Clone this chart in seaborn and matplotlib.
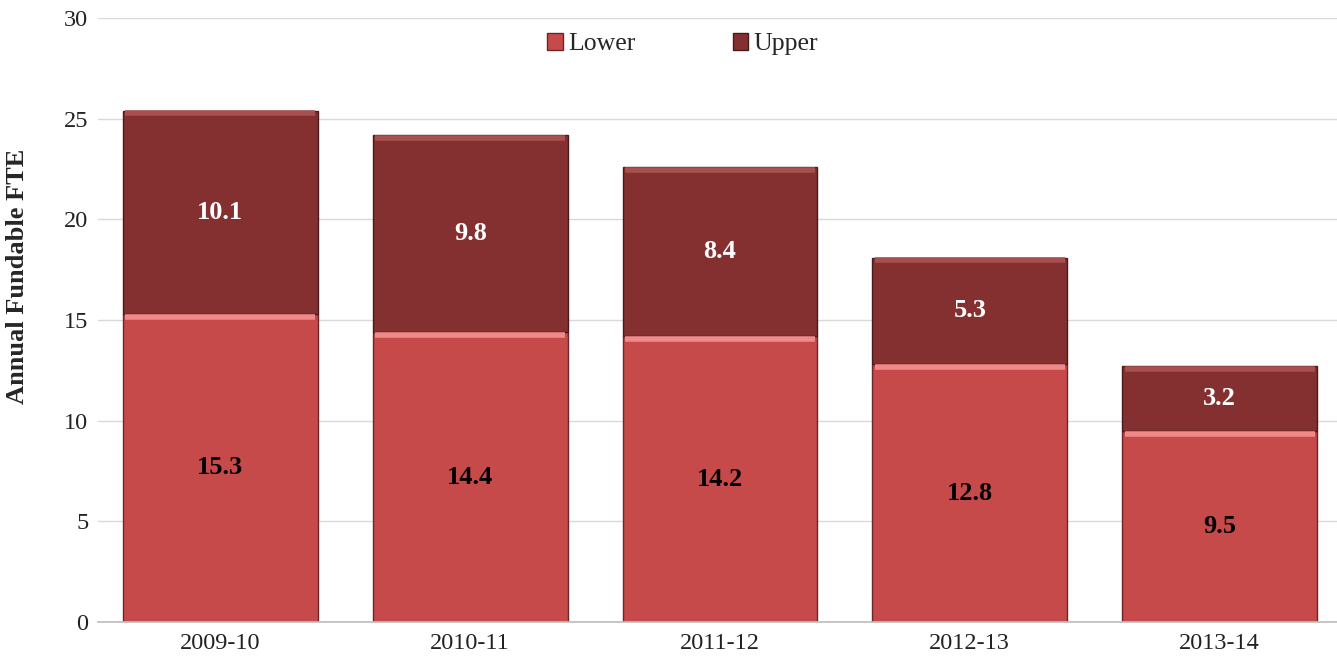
import matplotlib
matplotlib.use("Agg")
import matplotlib.pyplot as plt
import seaborn as sns
import pandas as pd

years = ["2009-10", "2010-11", "2011-12", "2012-13", "2013-14"]
lower = [15.3, 14.4, 14.2, 12.8, 9.5]
upper = [10.1, 9.8, 8.4, 5.3, 3.2]

df = pd.DataFrame({"year": years, "Lower": lower, "Upper": upper})

sns.set_theme(style="white")
plt.rcParams["font.family"] = ["Liberation Serif", "DejaVu Serif"]

lower_color = "#C64A4A"
upper_color = "#843030"

fig = plt.figure(figsize=(13.37, 6.67), dpi=100)
ax = fig.add_axes([0.0733, 0.0675, 0.9267, 0.9055])

sns.barplot(data=df, x="year", y="Lower", color=lower_color, width=0.78,
            saturation=1, edgecolor="#6E2525", linewidth=1.0, ax=ax, label="Lower")
sns.barplot(data=df, x="year", y="Upper", bottom=df["Lower"], color=upper_color, width=0.78,
            saturation=1, edgecolor="#4A1A1A", linewidth=1.0, ax=ax, label="Upper")

# light bevel along the top of every segment
for p in ax.patches:
    x0, y0 = p.get_x(), p.get_y() + p.get_height()
    light = "#F08A8A" if p.get_facecolor()[0] > 0.7 else "#A85050"
    ax.plot([x0 + 0.01, x0 + p.get_width() - 0.01], [y0 - 0.14, y0 - 0.14],
            color=light, lw=4, solid_capstyle="butt", zorder=3)

for i in range(len(years)):
    ax.text(i, lower[i] / 2, f"{lower[i]:.1f}", ha="center", va="center",
            fontsize=19, fontweight="bold", color="black")
    ax.text(i, lower[i] + upper[i] / 2, f"{upper[i]:.1f}", ha="center", va="center",
            fontsize=19, fontweight="bold", color="white")

ax.set_ylim(0, 30)
ax.set_yticks(range(0, 31, 5))
ax.set_xlim(-0.49, 4.47)
ax.yaxis.grid(True, color="#D9D9D9", linewidth=1)
ax.set_axisbelow(True)
for s in ["top", "right", "left"]:
    ax.spines[s].set_visible(False)
ax.spines["bottom"].set_color("#BFBFBF")
ax.tick_params(axis="both", length=0, labelsize=17.5, colors="#222222")
ax.tick_params(axis="x", pad=8)
ax.tick_params(axis="y", pad=7)
ax.set_xlabel("")
ax.set_ylabel("Annual Fundable FTE", fontsize=19, fontweight="bold")
ax.yaxis.set_label_coords(-0.056, 0.573)

ax.legend(loc="upper center", bbox_to_anchor=(0.472, 1.013), ncol=2, frameon=False,
          fontsize=18.5, handlelength=0.6, handleheight=0.6, handletextpad=0.2,
          columnspacing=3.8)

plt.savefig("out.png", dpi=100)
